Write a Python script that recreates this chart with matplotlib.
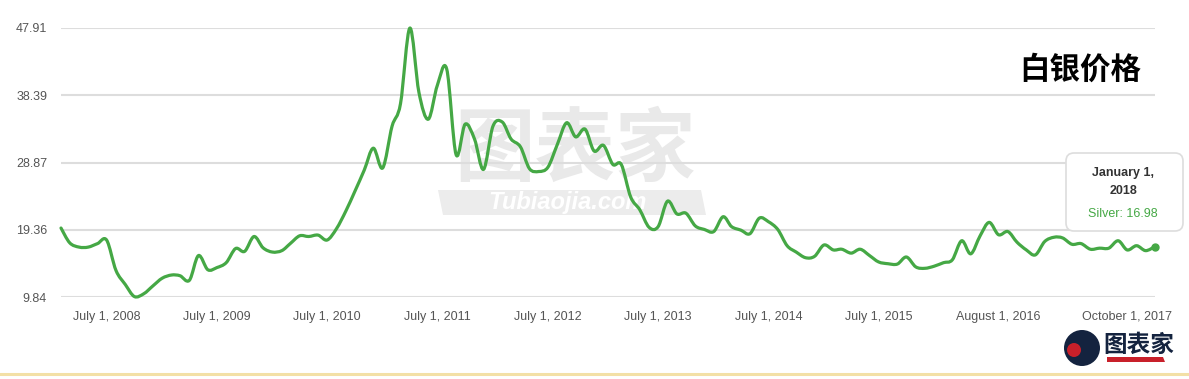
import matplotlib
matplotlib.use("Agg")
import matplotlib.pyplot as plt
import matplotlib.dates as mdates
from matplotlib.patches import FancyBboxPatch, Polygon, Circle, PathPatch
from matplotlib.path import Path
from matplotlib.transforms import IdentityTransform
import pandas as pd

# monthly silver price, Feb 2008 .. Jan 2018
silver = [
    19.6, 17.5, 16.9, 16.9, 17.4, 17.9, 13.6, 11.6, 9.9, 10.3,
    11.4, 12.5, 12.95, 12.85, 12.2, 15.7, 13.7, 14.0, 14.7, 16.7,
    16.3, 18.4, 16.8, 16.2, 16.4, 17.4, 18.5, 18.4, 18.6, 17.9,
    19.5, 22.0, 24.8, 27.8, 30.9, 28.1, 34.0, 37.2, 47.9, 38.8,
    35.0, 39.8, 42.1, 30.0, 34.3, 32.2, 27.9, 34.0, 34.6, 32.2,
    31.1, 28.0, 27.6, 28.2, 31.4, 34.5, 32.5, 33.6, 30.5, 31.3,
    28.6, 28.6, 24.0, 22.2, 19.7, 19.8, 23.4, 21.6, 21.7, 19.9,
    19.4, 19.1, 21.2, 19.8, 19.3, 18.8, 21.0, 20.5, 19.4, 17.1,
    16.2, 15.4, 15.6, 17.2, 16.5, 16.6, 16.05, 16.6, 15.7, 14.8,
    14.55, 14.5, 15.5, 14.1, 13.9, 14.2, 14.7, 15.1, 17.8, 15.95,
    18.5, 20.4, 18.65, 19.1, 17.6, 16.5, 15.8, 17.7, 18.3, 18.2,
    17.3, 17.4, 16.6, 16.75, 16.75, 17.8, 16.5, 17.1, 16.4, 16.98,
]
dates = pd.date_range("2008-02-01", periods=len(silver), freq="MS")

y_ticks = [9.84, 19.36, 28.87, 38.39, 47.91]
x_ticks = ["2008-07-01", "2009-07-01", "2010-07-01", "2011-07-01", "2012-07-01",
           "2013-07-01", "2014-07-01", "2015-07-01", "2016-08-01", "2017-10-01"]
x_labels = ["July 1, 2008", "July 1, 2009", "July 1, 2010", "July 1, 2011",
            "July 1, 2012", "July 1, 2013", "July 1, 2014", "July 1, 2015",
            "August 1, 2016", "October 1, 2017"]

title = "白银价格"
tip_date = ["January 1,", "2018"]
tip_value = "Silver: 16.98"

green = "#45a845"
plt.rcParams["font.family"] = ["Liberation Sans", "DejaVu Sans"]


def smooth_path(xs, ys):
    # cardinal-spline style curve through the points (drawing only)
    pts = list(zip(xs, ys))
    verts = [pts[0]]
    codes = [Path.MOVETO]
    n = len(pts)
    for i in range(n - 1):
        p0 = pts[max(i - 1, 0)]
        p1 = pts[i]
        p2 = pts[i + 1]
        p3 = pts[min(i + 2, n - 1)]
        c1 = (p1[0] + (p2[0] - p0[0]) / 6, p1[1] + (p2[1] - p0[1]) / 6)
        c2 = (p2[0] - (p3[0] - p1[0]) / 6, p2[1] - (p3[1] - p1[1]) / 6)
        verts += [c1, c2, p2]
        codes += [Path.CURVE4] * 3
    return Path(verts, codes)


fig = plt.figure(figsize=(11.89, 3.79), dpi=100)
ax = fig.add_axes([61 / 1189, 82 / 379, 1094 / 1189, 269 / 379])

xnum = mdates.date2num(dates)
ax.add_patch(PathPatch(smooth_path(xnum, silver), facecolor="none", edgecolor=green,
                       lw=2.3, capstyle="round", joinstyle="round",
                       clip_on=False, zorder=3))
ax.plot(dates[-1:], silver[-1:], "o", color=green, ms=5, clip_on=False, zorder=4)

ax.set_xlim(dates[0], dates[-1])
ax.set_ylim(y_ticks[0], y_ticks[-1])
ax.set_yticks(y_ticks)
ax.set_yticklabels([f"{v:.2f}" for v in y_ticks], fontsize=9, color="#555555")
ax.set_xticks(pd.to_datetime(x_ticks))
ax.set_xticklabels(x_labels, fontsize=9, color="#555555")
ax.tick_params(length=0, axis="y", pad=10)
ax.tick_params(length=0, axis="x", pad=10)
ax.grid(axis="y", color="#dddddd", lw=1.5)
ax.grid(axis="x", visible=False)
for s in ax.spines.values():
    s.set_visible(False)

# watermark (under the line)
ax.text(575 / 1189, 228 / 379, "图表家", fontsize=58, color="#e9e9e9",
        family=["Noto Sans CJK SC"], weight="bold", ha="center", va="center",
        transform=fig.transFigure, zorder=1)
ax.add_artist(Polygon([[443, 164], [706, 164], [701, 189], [438, 189]], closed=True,
                      transform=IdentityTransform(), facecolor="#ececec",
                      edgecolor="none", zorder=1))
ax.text(568 / 1189, 176 / 379, "Tubiaojia.com", fontsize=17, color="white",
        style="italic", weight="bold", ha="center", va="center",
        transform=fig.transFigure, zorder=2)

# title
fig.text(1080 / 1189, 309 / 379, title, fontsize=22, weight="bold", color="black",
         family=["Noto Sans CJK SC"], ha="center", va="center")

# tooltip
fig.patches.append(FancyBboxPatch((1066, 148), 117, 78,
                                  boxstyle="round,pad=0,rounding_size=8",
                                  transform=IdentityTransform(), facecolor="white",
                                  edgecolor="#dddddd", lw=1.2, zorder=5))
fig.text(1123 / 1189, 206 / 379, tip_date[0], fontsize=9, weight="bold",
         color="#333333", ha="center", va="center", zorder=6)
fig.text(1123 / 1189, 188 / 379, tip_date[1], fontsize=9, weight="bold",
         color="#333333", ha="center", va="center", zorder=6)
fig.text(1123 / 1189, 165 / 379, tip_value, fontsize=9, color=green,
         ha="center", va="center", zorder=6)

# logo
fig.patches.append(Circle((1082, 31), 18, transform=IdentityTransform(),
                          facecolor="#14233f", edgecolor="none"))
fig.patches.append(Circle((1074, 29), 7, transform=IdentityTransform(),
                          facecolor="#c8202a", edgecolor="none"))
fig.text(1139 / 1189, 34 / 379, "图表家", fontsize=17, color="#14233f",
         family=["Noto Sans CJK SC"], weight="bold", ha="center", va="center")
fig.patches.append(Polygon([[1107, 17], [1165, 17], [1163, 22], [1107, 22]],
                           transform=IdentityTransform(), facecolor="#c8202a",
                           edgecolor="none"))

# bottom rule
fig.add_artist(plt.Line2D([0, 1], [5 / 379, 5 / 379], color="#f3e0a6", lw=2.2))

fig.savefig("out.png", dpi=100, facecolor="white")
